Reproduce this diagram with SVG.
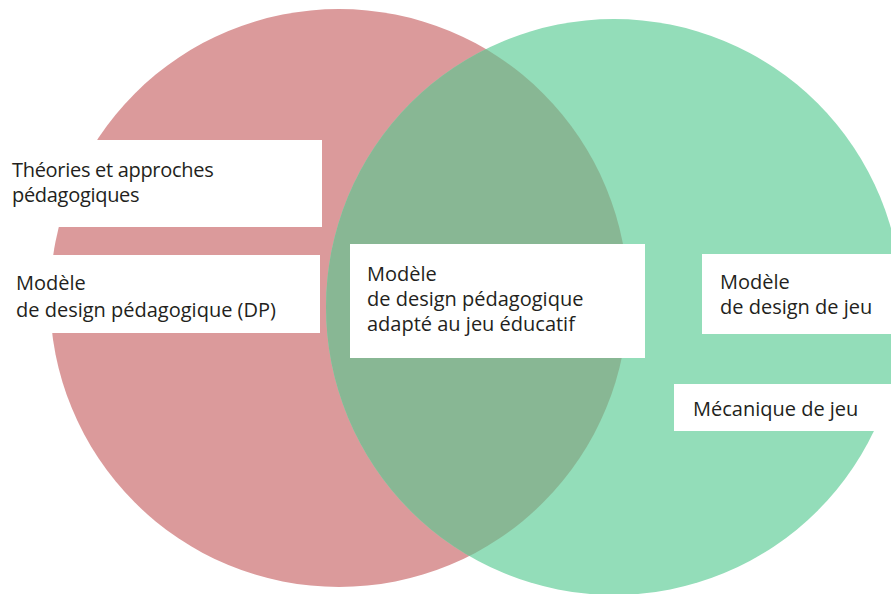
<svg xmlns="http://www.w3.org/2000/svg" width="891" height="594" viewBox="0 0 891 594">
  <style>
    .lbl { font-family: "Open Sans", "Noto Sans", "Liberation Sans", sans-serif; font-size: 20px; fill: #231f20; }
    .box { fill: #ffffff; }
  </style>
  <rect width="891" height="594" fill="#ffffff"/>
  <defs>
    <clipPath id="leftClip">
      <circle cx="339" cy="298" r="289"/>
    </clipPath>
  </defs>
  <g id="sets">
    <circle id="set-pedagogy" cx="339" cy="298" r="289" fill="#db9a9b"/>
    <circle id="set-game" cx="614" cy="307" r="288" fill="#93ddb9"/>
    <circle id="overlap" cx="614" cy="307" r="288" fill="#88b794" clip-path="url(#leftClip)"/>
  </g>
  <g id="node-theories">
    <rect class="box" x="0" y="140" width="322" height="87"/>
    <text class="lbl" x="12" y="177" letter-spacing="-0.3">Théories et approches</text>
    <text class="lbl" x="12" y="202" letter-spacing="-0.3">pédagogiques</text>
  </g>
  <g id="node-dp">
    <rect class="box" x="0" y="255" width="320" height="78"/>
    <text class="lbl" x="16" y="290">Modèle</text>
    <text class="lbl" x="16" y="317">de design pédagogique (DP)</text>
  </g>
  <g id="node-adapted">
    <rect class="box" x="350" y="244" width="295" height="114"/>
    <text class="lbl" x="367" y="281">Modèle</text>
    <text class="lbl" x="367" y="306">de design pédagogique</text>
    <text class="lbl" x="367" y="331">adapté au jeu éducatif</text>
  </g>
  <g id="node-game-design">
    <rect class="box" x="702" y="254" width="189" height="80"/>
    <text class="lbl" x="720" y="289">Modèle</text>
    <text class="lbl" x="720" y="314">de design de jeu</text>
  </g>
  <g id="node-mechanics">
    <rect class="box" x="674" y="384" width="217" height="47"/>
    <text class="lbl" x="693" y="416">Mécanique de jeu</text>
  </g>
  <g id="connectors"/>
</svg>
